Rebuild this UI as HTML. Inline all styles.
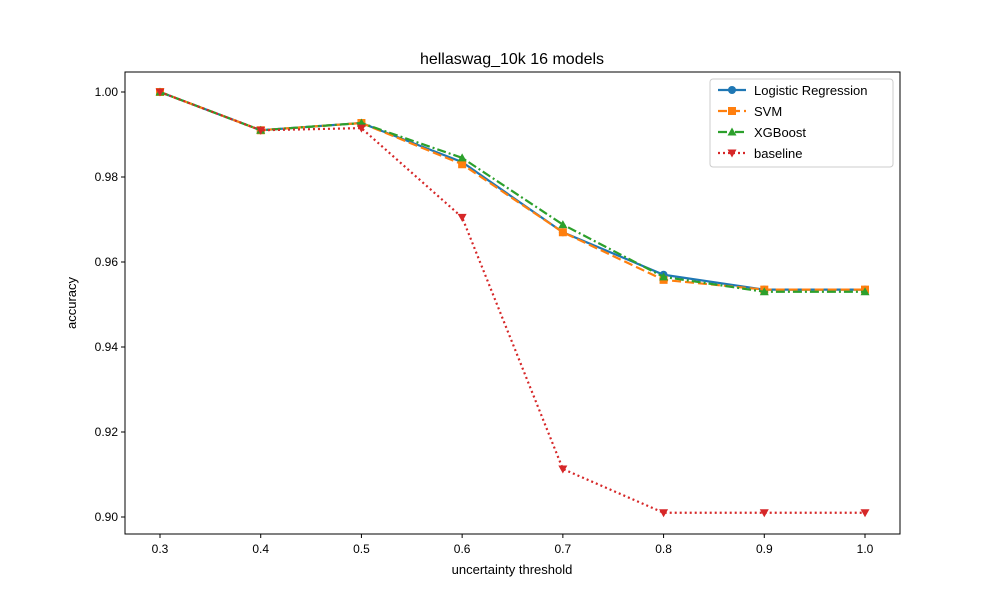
<!DOCTYPE html>
<html><head><meta charset="utf-8"><style>body{margin:0;background:#fff}svg{font-family:"Liberation Sans","DejaVu Sans",sans-serif}</style></head>
<body>
<svg id="c" width="1000" height="600" xmlns="http://www.w3.org/2000/svg"></svg>
<script>
const categories=[0.3,0.4,0.5,0.6,0.7,0.8,0.9,1.0];
const lrValues=[1.0,0.991,0.9927,0.9835,0.967,0.957,0.9535,0.9535];
const svmValues=[1.0,0.991,0.9927,0.983,0.967,0.9558,0.9535,0.9535];
const xgbValues=[1.0,0.991,0.9927,0.9845,0.9688,0.9565,0.953,0.953];
const baseValues=[1.0,0.991,0.9915,0.9705,0.9113,0.901,0.901,0.901];
const yTicks=[0.90,0.92,0.94,0.96,0.98,1.00];
const xTicks=[0.3,0.4,0.5,0.6,0.7,0.8,0.9,1.0];
const NS="http://www.w3.org/2000/svg",svg=document.getElementById('c');
const L=125,R=900,T=72,B=534;
const X=v=>160+(v-0.3)/0.7*705;
const Y=v=>92+(1-v)*4250;
function el(t,a,p){const e=document.createElementNS(NS,t);for(const k in a)e.setAttribute(k,a[k]);(p||svg).appendChild(e);return e;}
function txt(s,a){const e=el('text',a);e.textContent=s;return e;}
const t=txt('hellaswag_10k 16 models',{x:512,y:64,'text-anchor':'middle','font-size':16});

xTicks.forEach(v=>{el('line',{x1:X(v),x2:X(v),y1:B,y2:B+4,stroke:'#000'});const l=txt(v.toFixed(1),{x:X(v),y:B+19,'text-anchor':'middle','font-size':12});
});
yTicks.forEach(v=>{el('line',{x1:L-4,x2:L,y1:Y(v),y2:Y(v),stroke:'#000'});const l=txt(v.toFixed(2),{x:L-7,y:Y(v)+4,'text-anchor':'end','font-size':12});
});
const xt=txt('uncertainty threshold',{x:512,y:574,'text-anchor':'middle','font-size':13});

const yt=txt('accuracy',{x:0,y:0,'text-anchor':'middle','font-size':13,transform:'translate(76,303) rotate(-90)'});

function marker(type,x,y,c,g){
 if(type==='o')return el('circle',{cx:x,cy:y,r:4,fill:c},g);
 if(type==='s')return el('rect',{x:x-4,y:y-4,width:8,height:8,fill:c},g);
 if(type==='^')return el('polygon',{points:`${x},${y-4.5} ${x-4.5},${y+3.5} ${x+4.5},${y+3.5}`,fill:c},g);
 return el('polygon',{points:`${x},${y+4.5} ${x-4.5},${y-3.5} ${x+4.5},${y-3.5}`,fill:c},g);
}
const series=[
 {name:'Logistic Regression',vals:lrValues,c:'#1f77b4',d:'',m:'o',id:'series-logistic-regression'},
 {name:'SVM',vals:svmValues,c:'#ff7f0e',d:'9,4',m:'s',id:'series-svm'},
 {name:'XGBoost',vals:xgbValues,c:'#2ca02c',d:'9,3,2,3',m:'^',id:'series-xgboost'},
 {name:'baseline',vals:baseValues,c:'#d62728',d:'2,3',m:'v',id:'series-baseline'}];
series.forEach(s=>{const g=el('g',{});
 
 el('polyline',{points:s.vals.map((v,i)=>X(categories[i])+','+Y(v)).join(' '),fill:'none',stroke:s.c,'stroke-width':2.2,'stroke-dasharray':s.d},g);
 s.vals.forEach((v,i)=>{const m=marker(s.m,X(categories[i]),Y(v),s.c,g);
 });
});
el('rect',{x:L,y:T,width:R-L,height:B-T,fill:'none',stroke:'#000','stroke-width':1});
const lg=el('g',{});
el('rect',{x:710,y:79,width:183,height:88,rx:3,fill:'#fff',stroke:'#ccc'},lg);
series.forEach((s,i)=>{const y=90+i*21;const e=el('g',{},lg);
 
 el('line',{x1:718,x2:746,y1:y,y2:y,stroke:s.c,'stroke-width':2.2,'stroke-dasharray':s.d},e);
 marker(s.m,732,y,s.c,e);
 const tt=el('text',{x:754,y:y+5,'font-size':13},e);tt.textContent=s.name;});
</script>
</body></html>
